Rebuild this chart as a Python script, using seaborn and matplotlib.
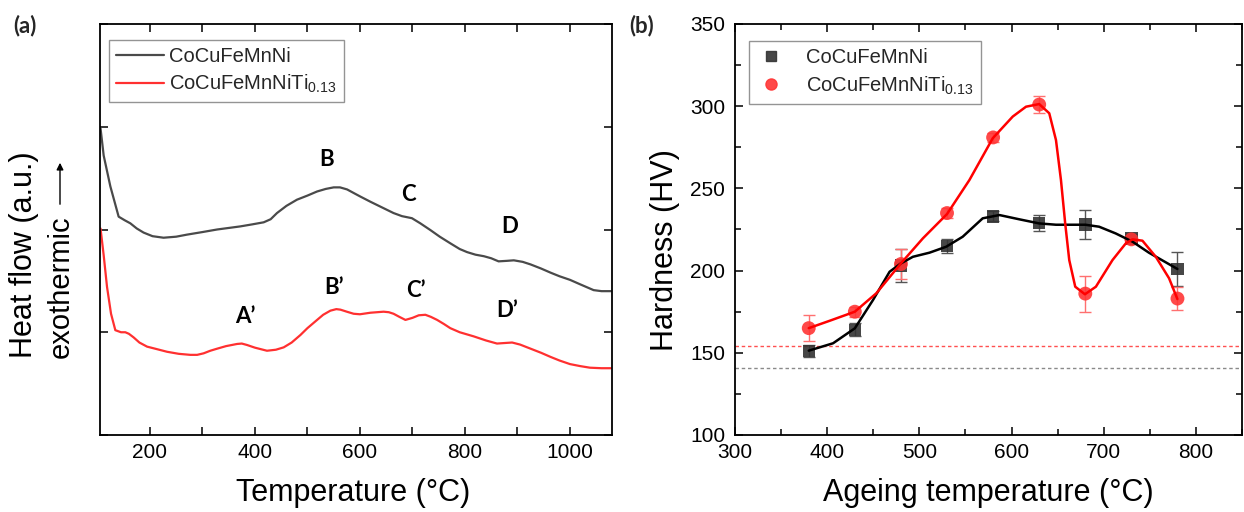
import numpy as np
import pandas as pd
import matplotlib
matplotlib.use("Agg")
import matplotlib.pyplot as plt
from matplotlib.lines import Line2D
from matplotlib.ticker import MultipleLocator
import seaborn as sns

# ---------------- Panel (a): DSC curves ----------------
dsc_T_base = [106, 112, 124.7, 140.5, 152, 162.8, 175, 188, 205, 226, 250, 270.6, 300, 328, 350,
              372, 395, 416.7, 430, 442, 460, 480, 500, 518.4, 535, 550, 562, 575.5, 590, 601,
              620, 640, 664, 680, 699, 715, 734, 752, 772, 790, 804, 820, 836, 850, 864, 880,
              893, 910, 925, 945, 963, 980, 1000, 1020, 1045, 1060, 1078]
dsc_base = [2.985, 2.72, 2.42, 2.125, 2.09, 2.06, 2.01, 1.97, 1.935, 1.92, 1.93, 1.95, 1.975, 2.00, 2.015,
            2.03, 2.05, 2.07, 2.10, 2.16, 2.23, 2.29, 2.33, 2.37, 2.395, 2.41, 2.41, 2.39, 2.35, 2.32,
            2.27, 2.22, 2.16, 2.13, 2.11, 2.06, 1.995, 1.93, 1.866, 1.81, 1.78, 1.755, 1.74, 1.72, 1.69, 1.695,
            1.70, 1.685, 1.66, 1.62, 1.58, 1.545, 1.51, 1.465, 1.41, 1.40, 1.40]

dsc_T_ti = [106, 112, 118.4, 126, 134.2, 145, 153.2, 160, 169, 180, 194.6, 210, 232.7, 255, 277, 290,
            302.4, 315, 328, 345, 366, 375, 385, 400, 423, 440, 454.8, 470, 486.6, 500, 518.4, 530,
            543.7, 555, 562.8, 575, 588, 600, 620, 645, 655, 664, 675, 686.6, 700, 712, 724.6, 735,
            747, 760, 772, 790, 816.6, 840, 861, 875, 889.8, 905, 925, 945, 963, 980, 1000, 1020,
            1038, 1060, 1078]
dsc_ti = [2.01, 1.75, 1.44, 1.18, 1.02, 1.00, 1.00, 0.985, 0.95, 0.90, 0.86, 0.84, 0.81, 0.79, 0.78, 0.78,
          0.795, 0.82, 0.84, 0.865, 0.886, 0.89, 0.876, 0.85, 0.82, 0.83, 0.853, 0.90, 0.973, 1.04, 1.12, 1.17,
          1.21, 1.225, 1.22, 1.20, 1.18, 1.175, 1.19, 1.20, 1.195, 1.18, 1.15, 1.12, 1.14, 1.165, 1.17, 1.15,
          1.12, 1.08, 1.04, 1.00, 0.96, 0.92, 0.89, 0.895, 0.90, 0.88, 0.84, 0.80, 0.76, 0.725, 0.69, 0.67,
          0.655, 0.65, 0.65]

peak_labels = ["B", "C", "D", "A\u2019", "B\u2019", "C\u2019", "D\u2019"]
peak_T = [537, 693, 886, 382, 550, 706, 880]
peak_y = [2.68, 2.34, 2.03, 1.15, 1.44, 1.41, 1.21]

# ---------------- Panel (b): hardness ----------------
age_T = [380, 430, 480, 530, 580, 630, 680, 730, 780]
hv_base = [151, 164, 203, 215, 233, 229, 228, 219.5, 201]
hv_base_err = [3.5, 4, 10, 4, 3, 5, 9, 3, 10.5]
hv_ti = [165, 175, 204, 235, 281, 301, 186, 219, 183]
hv_ti_err = [8, 3, 9, 3, 3, 5, 11, 2, 7]
ascast_base = 140.5
ascast_ti = 154

fit_T_ti = [380, 402.8, 430, 453.3, 480, 503.8, 530, 554.3, 579.6, 601.3, 615.7, 630, 640.9, 648.2,
            653.6, 658.2, 662.6, 669.1, 679.6, 691.5, 709.5, 724, 731.2, 742, 756.5, 770.9, 779.9]
fit_ti = [165, 169.5, 175, 186.2, 204.4, 219.6, 234.4, 255.1, 280.5, 293.7, 299.7, 301.3, 295.7, 279.4,
          255.1, 228.7, 206.4, 190.2, 185.6, 190.2, 206.4, 216.6, 219, 218.2, 208.4, 195.3, 182.7]
fit_T_base = [380, 406.4, 430, 449.7, 467.7, 480, 493, 511, 529, 547, 568.7, 586.8, 608.4, 630, 648.2,
              680, 695, 713, 731.2, 749, 779.9]
fit_base = [151.3, 155.8, 164.9, 182.1, 199.3, 204.4, 208.4, 210.9, 214.5, 220.6, 231.8, 233.8, 231.2,
            228.7, 227.9, 227.9, 226.7, 222.6, 217.6, 210.9, 201]

names = ["CoCuFeMnNi", r"CoCuFeMnNiTi$_{0.13}$"]

sns.set_theme(style="ticks")
plt.rcParams['font.family'] = ['Liberation Sans', 'DejaVu Sans']
plt.rcParams['mathtext.default'] = 'regular'

W, H = 1244, 512
fig = plt.figure(figsize=(W / 100, H / 100), dpi=100)
ax1 = fig.add_axes([100 / W, 77 / H, 512 / W, 411 / H])
ax2 = fig.add_axes([735 / W, 77 / H, 507 / W, 411 / H])

TICK = 15
LAB = 22
BOLDFONT = ['Lato', 'DejaVu Sans']

def style_axes(ax):
    for s in ax.spines.values():
        s.set_linewidth(1.3)
        s.set_color('black')
    ax.tick_params(which='both', direction='in', top=True, right=True, colors='black',
                   labelsize=TICK, width=1.1)
    ax.tick_params(which='major', length=6)
    ax.tick_params(which='minor', length=4)
    ax.tick_params(axis='x', pad=6)

# ---- panel a
dfa1 = pd.DataFrame({"T": dsc_T_base, "v": dsc_base})
dfa2 = pd.DataFrame({"T": dsc_T_ti, "v": dsc_ti})
sns.lineplot(data=dfa1, x="T", y="v", ax=ax1, color="#4a4a4a", lw=1.6, label=names[0], sort=False)
sns.lineplot(data=dfa2, x="T", y="v", ax=ax1, color="#ff3030", lw=1.6, label=names[1], sort=False)
ax1.set_xlim(105, 1080)
ax1.set_ylim(0, 4)
ax1.xaxis.set_major_locator(MultipleLocator(200))
ax1.xaxis.set_minor_locator(MultipleLocator(100))
ax1.yaxis.set_major_locator(MultipleLocator(1))
style_axes(ax1)
ax1.tick_params(axis='y', labelleft=False)
ax1.tick_params(which='minor', length=6)
ax1.set_ylabel("")
ax1.set_xlabel("Temperature (\u00b0C)", fontsize=LAB, color='black')
ax1.xaxis.set_label_coords(0.495, -0.105)
for lab, tx, ty in zip(peak_labels, peak_T, peak_y):
    ax1.text(tx, ty, lab, fontsize=16, fontweight='bold', family=BOLDFONT,
             ha='center', va='center', color='black')
leg1 = ax1.legend(loc='upper left', bbox_to_anchor=(0.017, 0.962), fontsize=14.5, frameon=True,
                  fancybox=False, edgecolor='#7a7a7a', handlelength=2.4, handletextpad=0.25,
                  borderpad=0.35, labelspacing=0.35, borderaxespad=0)
leg1.get_frame().set_linewidth(1.0)

# y label of panel a (two lines) and arrow
fig.text(24 / W, 1 - 358 / H, "Heat flow (a.u.)", rotation=90, ha='center', va='bottom',
         fontsize=LAB, color='black')
fig.text(61 / W, 1 - 358 / H, "exothermic", rotation=90, ha='center', va='bottom',
         fontsize=21, color='black')
fig.add_artist(matplotlib.patches.FancyArrowPatch((60 / W, 1 - 207 / H), (60 / W, 1 - 160 / H),
               transform=fig.transFigure, arrowstyle='-|>', mutation_scale=10, lw=1.0, color='black'))

# ---- panel b
ax2.axhline(ascast_ti, color='#ff5050', lw=1.0, ls=(0, (2.5, 2)))
ax2.axhline(ascast_base, color='#8a8a8a', lw=1.0, ls=(0, (2.5, 2)))
ax2.errorbar(age_T, hv_base, yerr=hv_base_err, fmt='none', ecolor='#555555', elinewidth=1.0,
             capsize=4, capthick=1.0, zorder=3)
ax2.errorbar(age_T, hv_ti, yerr=hv_ti_err, fmt='none', ecolor='#ff7070', elinewidth=1.0,
             capsize=4, capthick=1.0, zorder=3)
dfb1 = pd.DataFrame({"T": age_T, "hv": hv_base})
dfb2 = pd.DataFrame({"T": age_T, "hv": hv_ti})
sns.scatterplot(data=dfb1, x="T", y="hv", ax=ax2, marker='s', s=80, color='#333333', alpha=0.9,
                edgecolor='none', zorder=4)
sns.scatterplot(data=dfb2, x="T", y="hv", ax=ax2, marker='o', s=100, color='#ff3535', alpha=0.9,
                edgecolor='none', zorder=4)
fb1 = pd.DataFrame({"T": fit_T_base, "hv": fit_base})
fb2 = pd.DataFrame({"T": fit_T_ti, "hv": fit_ti})
sns.lineplot(data=fb1, x="T", y="hv", ax=ax2, color='black', lw=1.8, sort=False, zorder=5)
sns.lineplot(data=fb2, x="T", y="hv", ax=ax2, color='#ff0000', lw=1.8, sort=False, zorder=5)
ax2.set_xlim(300, 850)
ax2.set_ylim(100, 350)
ax2.xaxis.set_major_locator(MultipleLocator(100))
ax2.xaxis.set_minor_locator(MultipleLocator(50))
ax2.yaxis.set_major_locator(MultipleLocator(50))
ax2.yaxis.set_minor_locator(MultipleLocator(25))
style_axes(ax2)
ax2.tick_params(axis='y', pad=7)
ax2.set_xlabel("Ageing temperature (\u00b0C)", fontsize=LAB, color='black')
ax2.xaxis.set_label_coords(0.5, -0.105)
ax2.set_ylabel("Hardness (HV)", fontsize=LAB, color='black')
ax2.yaxis.set_label_coords(-0.108, 0.45)
handles = [Line2D([], [], ls='none', marker='s', ms=7, color='#333333', alpha=0.9),
           Line2D([], [], ls='none', marker='o', ms=8, color='#ff3535', alpha=0.9)]
leg2 = ax2.legend(handles, names, loc='upper left', bbox_to_anchor=(0.027, 0.958), fontsize=14.5,
                  frameon=True, fancybox=False, edgecolor='#7a7a7a', handlelength=1.5,
                  handletextpad=1.0, borderpad=0.35, labelspacing=0.35, borderaxespad=0)
leg2.get_frame().set_linewidth(1.0)

fig.text(25 / W, 1 - 26 / H, "(a)", fontsize=16, fontweight='bold', family=BOLDFONT,
         ha='center', va='center')
fig.text(642 / W, 1 - 26 / H, "(b)", fontsize=16, fontweight='bold', family=BOLDFONT,
         ha='center', va='center')

fig.savefig("out.png", dpi=100)
